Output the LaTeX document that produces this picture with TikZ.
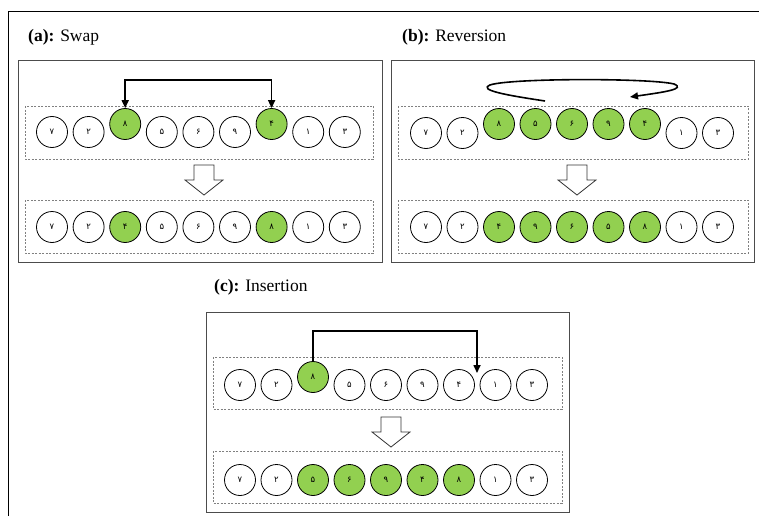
\documentclass[tikz,border=0pt]{standalone}
\usepackage{fontspec}
\setmainfont{Liberation Serif}
\newfontfamily\arabicfont[Script=Arabic]{DejaVu Sans}
\usetikzlibrary{arrows.meta}
\definecolor{cgreen}{HTML}{92D050}
\tikzset{
  cell/.style={circle,draw=black,line width=0.8pt,minimum size=31pt,inner sep=0pt,font=\arabicfont\fontsize{8.5}{8.5}\selectfont,fill=white},
  hot/.style={cell,fill=cgreen},
  panel/.style={draw=black!70,line width=1pt},
  rowbox/.style={draw=black!50,line width=0.8pt,dash pattern=on 2pt off 1.5pt},
  conn/.style={draw=black,line width=1.6pt},
  tip/.style={-{Triangle[length=8pt,width=7pt]}},
  blockarrow/.style={draw=black!80,line width=0.8pt,fill=white},
  lbl/.style={font=\fontsize{17.5}{20}\selectfont,anchor=base west,inner sep=0pt}
}
\newcommand\blockdown[3]{% cx, top, tip
  \draw[blockarrow] (#1-10,#2) -- (#1+10,#2) -- (#1+10,#3-15) -- (#1+19,#3-15) -- (#1,#3) -- (#1-19,#3-15) -- (#1-10,#3-15) -- cycle;}
\begin{document}
\begin{tikzpicture}[x=1pt,y=-1pt]
\useasboundingbox (0,0) rectangle (759,516);
% outer frame (cropped)
\draw[line width=1pt] (8,516) -- (8,12) -- (759,12);

% labels
\node[lbl] (la) at (28,42) {\textbf{(a):} Swap};
\node[lbl] (lb) at (402,42) {\textbf{(b):} Reversion};
\node[lbl] (lc) at (214,291) {\textbf{(c):} Insertion};

% panel boxes
\draw[panel] (18,61) rectangle (382,262);
\draw[panel] (391,61) rectangle (754,262);
\draw[panel] (206,312) rectangle (569,512);
% dashed rows
\draw[rowbox] (25,106) rectangle (373,159);
\draw[rowbox] (25,200) rectangle (373,253);
\draw[rowbox] (398,106) rectangle (748,159);
\draw[rowbox] (398,200) rectangle (748,253);
\draw[rowbox] (213,357) rectangle (562,409);
\draw[rowbox] (213,451) rectangle (562,503);

% ---------- panel (a) ----------
\foreach \d/\s [count=\i from 0] in {۷/cell,۲/cell,۸/hot,۵/cell,۶/cell,۹/cell,۴/hot,۱/cell,۳/cell}{
  \node[\s] (a1\i) at ({52+36.6*\i},{\ifnum\i=2 124\else\ifnum\i=6 124\else 132\fi\fi}) {\d};
}
\foreach \d/\s [count=\i from 0] in {۷/cell,۲/cell,۴/hot,۵/cell,۶/cell,۹/cell,۸/hot,۱/cell,۳/cell}{
  \node[\s] (a2\i) at ({52+36.6*\i},227) {\d};
}
\coordinate (aT) at (200,80);
\draw[conn,tip] (aT) -| (a12.north);
\draw[conn,tip] (aT) -| (a16.north);
\blockdown{204}{165}{195}

% ---------- panel (b) ----------
\foreach \d/\s [count=\i from 0] in {۷/cell,۲/cell,۸/hot,۵/hot,۶/hot,۹/hot,۴/hot,۱/cell,۳/cell}{
  \node[\s] (b1\i) at ({426+36.5*\i},{\ifnum\i<2 133\else\ifnum\i>6 133\else 124\fi\fi}) {\d};
}
\foreach \d/\s [count=\i from 0] in {۷/cell,۲/cell,۴/hot,۹/hot,۶/hot,۵/hot,۸/hot,۱/cell,۳/cell}{
  \node[\s] (b2\i) at ({426+36.5*\i},227) {\d};
}
\coordinate (bS) at (545,101);
\coordinate (bE) at (630,97);
\draw[line width=1.6pt,tip] (bS) .. controls (505,95) and (478,90) .. (490,85)
  .. controls (510,78) and (650,78) .. (674,84)
  .. controls (686,89) and (665,92) .. (bE);
\blockdown{577}{165}{195}

% ---------- panel (c) ----------
\foreach \d/\s [count=\i from 0] in {۷/cell,۲/cell,۸/hot,۵/cell,۶/cell,۹/cell,۴/cell,۱/cell,۳/cell}{
  \node[\s] (c1\i) at ({240+36.5*\i},{\ifnum\i=2 377\else 385\fi}) {\d};
}
\foreach \d/\s [count=\i from 0] in {۷/cell,۲/cell,۵/hot,۶/hot,۹/hot,۴/hot,۸/hot,۱/cell,۳/cell}{
  \node[\s] (c2\i) at ({240+36.5*\i},480) {\d};
}
\coordinate (cT) at (400,331);
\coordinate (cE) at (477,373);
\draw[conn,tip] (c12.north) |- (cT) -| (cE);
\blockdown{391}{417}{447}
\end{tikzpicture}
\end{document}
